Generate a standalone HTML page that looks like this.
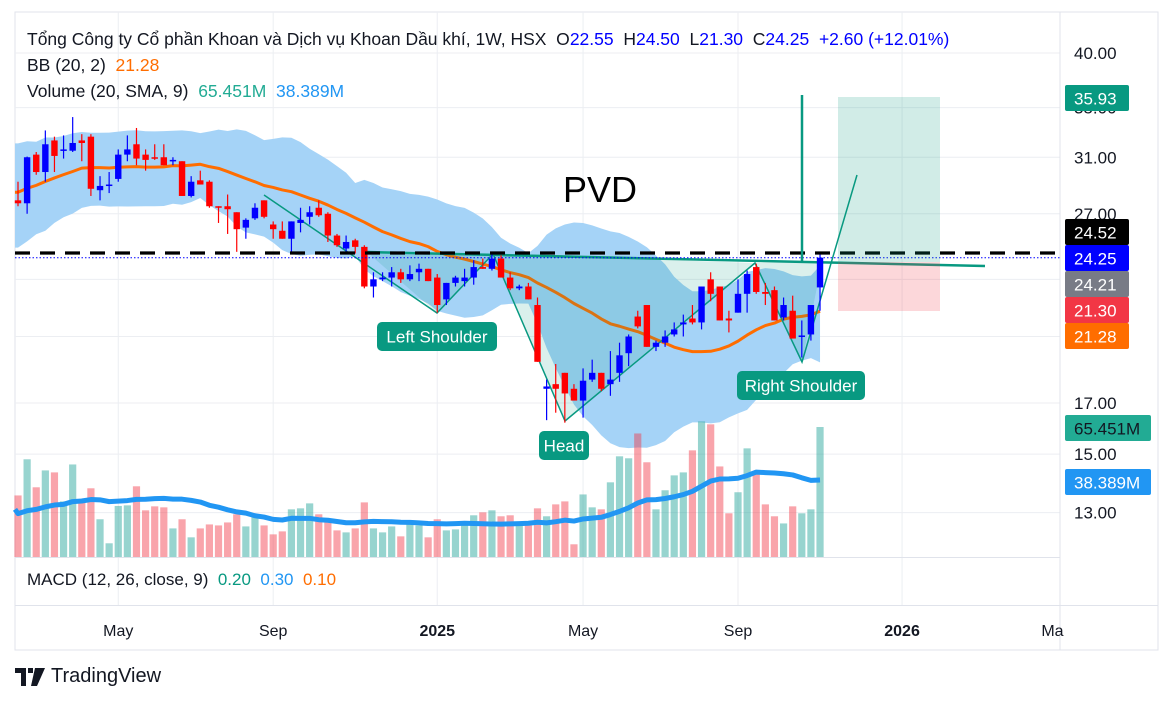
<!DOCTYPE html>
<html><head><meta charset="utf-8">
<style>
html,body{margin:0;padding:0;background:#fff;width:1172px;height:703px;overflow:hidden;font-family:"Liberation Sans","Noto Sans CJK SC",sans-serif;}
svg{position:absolute;left:0;top:0}
.t{font-family:"Liberation Sans","DejaVu Sans",sans-serif}
</style></head><body>
<svg id="chart" width="1172" height="703" viewBox="0 0 1172 703">
<rect x="15" y="12" width="1143" height="638" fill="#fff" stroke="#e0e3eb"/>
<g id="grid"></g>
<g id="band"></g>
<g id="pattern"></g>
<g id="vols"></g>
<g id="candles"></g>
<g id="overlay"></g>
<g id="axis"></g>
</svg>
<script>
const closesPrior=[25.5,25.8,26.5,26.0,26.8,27.5,27.2,28.0,28.8,29.5,30.2,31.0,30.5,31.5,31.0,30.0,29.0,28.5,28.2];
const volPrior=[20,22,18,24,21,19,23,20,22,25,21,20,24,22,19,23,21,20,22];
const opens=[27.9,27.7,31.2,29.9,32.3,31.5,31.5,32.3,32.6,28.6,28.9,29.4,31.2,32.0,31.2,31.0,31.0,30.7,30.7,28.2,29.3,29.2,27.5,27.5,27.1,26.1,26.7,27.9,26.3,25.9,25.4,26.4,26.8,27.4,27.0,25.6,24.8,25.3,24.9,22.6,23.0,23.1,23.4,23.0,23.4,23.6,23.1,21.9,22.8,22.9,23.1,23.7,23.6,24.2,23.1,22.5,22.6,21.6,17.6,17.8,18.3,17.6,17.1,18.0,18.3,17.8,18.3,19.2,21.0,21.6,19.5,19.7,20.1,20.6,20.9,20.7,23.0,22.6,20.9,21.2,22.2,23.7,22.3,22.4,20.95,21.3,20.0,20.1,22.55];
const highs=[29.2,31.05,31.4,33.1,32.6,32.7,34.2,32.8,32.8,29.6,29.9,31.6,32.7,33.3,31.6,32.0,32.0,31.0,30.7,29.6,30.0,29.3,27.5,28.3,27.1,26.7,27.7,27.9,26.5,26.5,26.5,27.4,27.5,27.9,27.1,25.7,25.6,25.4,25.0,23.4,23.4,23.7,23.6,23.8,23.9,23.6,23.3,22.8,23.2,23.6,24.1,24.2,24.6,24.4,23.4,22.7,22.8,22.0,18.0,18.7,18.3,17.8,18.5,18.9,18.3,19.3,19.7,20.1,21.3,21.6,19.8,20.3,20.7,21.1,21.6,22.6,23.4,22.6,21.3,23.0,23.5,23.9,22.8,22.6,22.0,22.1,20.8,21.6,24.5];
const lows=[27.5,27.0,29.7,29.2,29.9,30.9,31.4,30.7,28.2,27.9,28.4,29.2,30.7,30.4,30.0,30.8,30.4,30.4,28.2,28.1,29.0,27.4,26.4,25.7,24.6,25.4,26.6,26.7,25.4,25.4,24.5,25.8,26.3,26.8,25.2,24.9,24.6,24.5,22.5,22.0,22.9,22.6,22.8,22.9,22.9,22.9,21.2,21.6,22.6,22.6,22.7,23.6,23.5,23.1,22.4,22.4,21.9,18.8,16.3,16.6,16.2,17.1,16.4,17.9,17.5,17.3,17.9,18.6,20.4,19.5,19.3,19.5,20.0,20.0,20.6,20.35,21.8,20.8,20.2,21.2,21.2,22.2,21.6,20.8,20.8,19.9,19.0,19.8,21.3];
const closes=[27.7,31.0,29.9,32.0,31.1,31.6,32.1,32.1,28.7,28.9,29.0,31.2,31.6,30.9,30.8,30.9,30.4,30.8,28.2,29.2,29.0,27.5,27.4,27.3,26.0,26.6,27.4,26.8,26.0,25.4,26.5,26.6,27.1,26.9,25.6,25.0,25.2,24.9,22.6,23.0,23.1,23.4,23.0,23.3,23.6,22.9,21.6,22.8,23.1,23.1,23.7,23.6,24.2,23.1,22.5,22.6,21.9,18.8,17.7,17.6,17.4,17.1,17.95,18.3,17.6,18.0,19.1,20.0,20.5,19.5,19.7,20.0,20.35,20.7,20.7,22.6,22.2,20.8,20.8,22.2,23.3,22.3,22.2,20.8,21.6,19.9,20.05,21.6,24.25];
const volumes=[31.0,49.2,35.1,43.6,42.6,28.0,46.6,29.0,34.6,19.0,6.9,25.7,26.0,35.6,23.5,25.5,25.0,14.4,19.0,9.9,14.4,16.4,15.9,17.4,21.5,15.4,20.0,15.9,11.4,12.9,24.0,24.5,27.0,21.5,18.0,13.4,12.4,14.4,27.5,14.4,12.4,15.4,10.4,16.4,15.9,9.9,19.0,13.4,13.9,16.4,21.0,22.5,23.5,20.5,21.0,16.4,15.9,24.5,20.5,26.5,28.0,6.4,31.5,25.0,24.0,37.6,50.7,49.7,62.2,47.7,24.0,33.6,41.1,42.6,53.7,68.3,66.8,45.6,22.0,32.6,54.7,41.6,26.5,20.5,16.9,25.5,22.0,24.0,65.451];
const priceTicks=[40,35,31,27,23,20,17,15,13];
const priceTickLabels=["40.00","35.00","31.00","27.00","","","17.00","15.00","13.00"];
const monthLabels=["May","Sep","2025","May","Sep","2026","Ma"];
const monthIdx=[11,28,46,62,79,97,113.5];

const NS="http://www.w3.org/2000/svg";
function el(tag,attrs,parent){const e=document.createElementNS(NS,tag);for(const k in attrs)e.setAttribute(k,attrs[k]);parent.appendChild(e);return e;}
const X0=18,DX=9.114;
function xOf(i){return X0+i*DX;}
function yOf(p){return 53+409*Math.log(40/p);}
function yVol(v){return 557-v*1.986;}
const G=id=>document.getElementById(id);

const grid=G('grid');
priceTicks.forEach((p,i)=>{const l=el('line',{x1:15,x2:1060,y1:yOf(p),y2:yOf(p),stroke:'#eceef2','stroke-width':1},grid);

});
monthIdx.forEach((m,i)=>{const x=xOf(m);if(i<6){const l=el('line',{x1:x,x2:x,y1:12,y2:605,stroke:'#eceef2'},grid);

}});
el('line',{x1:1060,x2:1060,y1:12,y2:650,stroke:'#e0e3eb'},grid);
el('line',{x1:15,x2:1060,y1:557.5,y2:557.5,stroke:'#e0e3eb'},grid);
el('line',{x1:15,x2:1158,y1:605.5,y2:605.5,stroke:'#e0e3eb'},grid);

const allC=closesPrior.concat(closes);
const mid=[],up=[],lo=[];
for(let i=0;i<closes.length;i++){const j=i+closesPrior.length;const w=allC.slice(Math.max(0,j-19),j+1);
const m=w.reduce((a,b)=>a+b,0)/w.length;const sd=Math.sqrt(w.reduce((a,b)=>a+(b-m)*(b-m),0)/w.length);
mid.push(m);up.push(m+2*sd);lo.push(m-2*sd);}
const band=G('band');
let d='M'+(15)+','+yOf(up[0]);
up.forEach((v,i)=>d+=' L'+xOf(i)+','+yOf(v));
for(let i=lo.length-1;i>=0;i--)d+=' L'+xOf(i)+','+yOf(lo[i]);
d+=' L15,'+yOf(lo[0])+'Z';
const bf=el('path',{d:d,fill:'#a5d3f7'},band);



const pat=G('pattern');
const fillC='rgba(8,153,129,0.15)';
[[[367,252],[437,313],[493,254]],[[493,254],[565,421],[755,263]],[[755,263],[802,362],[822,262]]].forEach(tri=>{
const p=el('polygon',{points:tri.map(a=>a.join(',')).join(' '),fill:fillC},pat);

});
const pl=el('polyline',{points:'264,195 437,313 493,254 565,421 755,263 802,362 857,175',fill:'none',stroke:'#089981','stroke-width':1.5},pat);


const nk=el('line',{x1:367,y1:252,x2:985,y2:266,stroke:'#089981','stroke-width':2.5},pat);



const vg=G('vols');
volumes.forEach((v,i)=>{const upc=closes[i]>=opens[i];const y=yVol(v);
const r=el('rect',{x:xOf(i)-3.6,y:y,width:7.2,height:557-y,fill:upc?'rgba(38,166,154,0.48)':'rgba(242,54,69,0.45)'},vg);

});
const allV=volPrior.concat(volumes);let vd='';
volumes.forEach((v,i)=>{const j=i+volPrior.length;const w=allV.slice(j-19,j+1);const m=w.reduce((a,b)=>a+b,0)/w.length;
vd+=(i?' L':'M')+xOf(i)+','+yVol(m);});
vd='M15,'+yVol(24)+' L'+vd.slice(1);
const vm=el('path',{d:vd,fill:'none',stroke:'#2196f3','stroke-width':5,'stroke-linejoin':'round'},vg);



let md='M15,'+yOf(mid[0]);mid.forEach((v,i)=>md+=' L'+xOf(i)+','+yOf(v));
const ml=el('path',{d:md,fill:'none',stroke:'#ff6d00','stroke-width':3,'stroke-linejoin':'round'},band);



const cg=G('candles');
closes.forEach((c,i)=>{const o=opens[i];const col=c>=o?'#0000ff':'#ff0000';const x=xOf(i);
const w=el('line',{x1:x,x2:x,y1:yOf(highs[i]),y2:yOf(lows[i]),stroke:col,'stroke-width':1.2},cg);


const t=Math.min(yOf(o),yOf(c));const h=Math.max(1.5,Math.abs(yOf(o)-yOf(c)));
const b=el('rect',{x:x-3.2,y:t,width:6.4,height:h,fill:col},cg);

});

const ov=G('overlay');
el('line',{x1:15,x2:1060,y1:253,y2:253,stroke:'#000','stroke-width':3.2,'stroke-dasharray':'15 10'},ov);
el('line',{x1:15,x2:1060,y1:yOf(24.25),y2:yOf(24.25),stroke:'#0000ff','stroke-width':1,'stroke-dasharray':'1.5 2'},ov);
const vt=el('line',{x1:802,x2:802,y1:95,y2:262,stroke:'#089981','stroke-width':2.5},ov);


const tp=el('rect',{x:838,y:97,width:102,height:165,fill:'rgba(8,153,129,0.19)'},ov);


const sl=el('rect',{x:838,y:262,width:102,height:49,fill:'rgba(242,54,69,0.2)'},ov);


function label(x,y,w,txt,name){const g=el('g',{},ov);


el('rect',{x:x,y:y,width:w,height:29,rx:5,fill:'#089981'},g);
const t=el('text',{x:x+w/2,y:y+20.5,'text-anchor':'middle',fill:'#fff','font-size':17,'class':'t'},g);t.textContent=txt;}
label(377,322,120,'Left Shoulder','left-shoulder-label');
label(539,431,50,'Head','head-label');
label(737,371,128,'Right Shoulder','right-shoulder-label');
const pvd=el('text',{x:563,y:202,fill:'#000','font-size':36,'class':'t'},ov);pvd.textContent='PVD';



const ax=G('axis');
priceTicks.forEach((p,i)=>{if(!priceTickLabels[i])return;const t=el('text',{x:1074,y:yOf(p)+6,'font-size':17,fill:'#131722','class':'t'},ax);t.textContent=priceTickLabels[i];

});
function tag(y,w,bg,fg,txt,name){const g=el('g',{},ax);


el('rect',{x:1065,y:y,width:w,height:26,rx:2,fill:bg},g);
const t=el('text',{x:1074,y:y+19.5,'font-size':17,fill:fg,'class':'t'},g);t.textContent=txt;}
tag(85,64,'#089981','#fff','35.93','target-price-tag');
tag(219,64,'#000','#fff','24.52','neckline-price-tag');
tag(245,64,'#0000ff','#fff','24.25','last-price-tag');
tag(271,64,'#787b86','#fff','24.21','gray-price-tag');
tag(297,64,'#f23645','#fff','21.30','stop-price-tag');
tag(323,64,'#ff6d00','#fff','21.28','bb-basis-tag');
tag(415,86,'#22ab94','#131722','65.451M','volume-tag');
tag(469,86,'#2196f3','#fff','38.389M','volume-ma-tag');
monthLabels.forEach((m,i)=>{const t=el('text',{x:xOf(monthIdx[i]),y:636,'text-anchor':'middle','font-size':16,fill:'#131722','font-weight':(m==='2025'||m==='2026')?'bold':'normal','class':'t'},ax);t.textContent=m;

});
</script>
<div style="position:absolute;left:27px;top:26px;font-size:17.5px;color:#131722;line-height:26px;font-family:'Liberation Sans','DejaVu Sans',sans-serif">
<div>Tổng Công ty Cổ phần Khoan và Dịch vụ Khoan Dầu khí, 1W, HSX&nbsp; O<span style="color:#0000ff">22.55</span>&nbsp; H<span style="color:#0000ff">24.50</span>&nbsp; L<span style="color:#0000ff">21.30</span>&nbsp; C<span style="color:#0000ff">24.25</span>&nbsp; <span style="color:#0000ff">+2.60 (+12.01%)</span></div>
<div>BB (20, 2)&nbsp; <span style="color:#ff6d00">21.28</span></div>
<div>Volume (20, SMA, 9)&nbsp; <span style="color:#22ab94">65.451M</span>&nbsp; <span style="color:#2196f3">38.389M</span></div>
</div>
<div style="position:absolute;left:27px;top:570px;font-size:17px;color:#131722;font-family:'Liberation Sans','DejaVu Sans',sans-serif">MACD (12, 26, close, 9)&nbsp; <span style="color:#089981">0.20</span>&nbsp; <span style="color:#2196f3">0.30</span>&nbsp; <span style="color:#ff6d00">0.10</span></div>
<div style="position:absolute;left:15px;top:665px;font-size:20px;color:#131722;font-family:'Liberation Sans','DejaVu Sans',sans-serif;display:flex;align-items:center">
<svg width="30" height="18" style="position:static;margin-right:6px"><path d="M0 0h11v18H6V5H0z M13 0h5v5h-5z M20 0h10L22 18h-6z" fill="#131722"/></svg><span>TradingView</span></div>
</body></html>
